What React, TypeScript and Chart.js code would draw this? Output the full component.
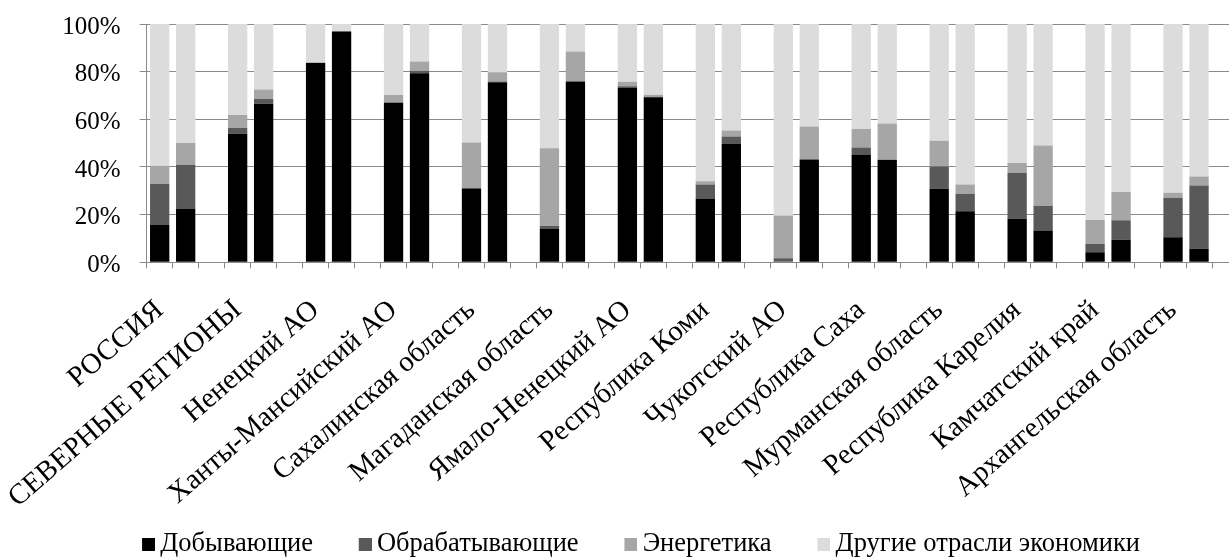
import { useEffect, useRef } from 'react';
import { Chart, registerables } from 'chart.js';

Chart.register(...registerables);

const regions = [
  'РОССИЯ',
  'СЕВЕРНЫЕ РЕГИОНЫ',
  'Ненецкий АО',
  'Ханты-Мансийский АО',
  'Сахалинская область',
  'Магаданская область',
  'Ямало-Ненецкий АО',
  'Республика Коми',
  'Чукотский АО',
  'Республика Саха',
  'Мурманская область',
  'Республика Карелия',
  'Камчатский край',
  'Архангельская область',
];

const sectorNames = ['Добывающие', 'Обрабатывающие', 'Энергетика', 'Другие отрасли экономики'];
const sectorColors = ['#000000', '#595959', '#a6a6a6', '#dcdcdc'];

// Left bar of each region pair, % of gross value added
const miningA = [15.7, 53.9, 83.6, 66.9, 30.8, 14.0, 73.1, 26.6, 0, 45.2, 30.9, 18.3, 4.2, 10.5];
const manufA = [17.2, 2.5, 0, 0.3, 0.5, 1.2, 0.8, 6.0, 1.7, 3.0, 9.3, 19.3, 3.5, 16.6];
const energyA = [7.6, 5.4, 0.3, 3.0, 19.0, 32.7, 1.9, 1.4, 17.9, 7.7, 10.8, 4.1, 10.1, 2.1];
const otherA = [59.5, 38.2, 16.1, 29.8, 49.7, 52.1, 24.2, 66.0, 80.4, 44.1, 49.0, 58.3, 82.2, 70.8];

// Right bar of each region pair
const miningB = [22.4, 66.5, 96.9, 79.3, 75.6, 75.9, 69.3, 49.6, 43.1, 42.9, 21.4, 13.3, 9.5, 5.7];
const manufB = [18.5, 2.0, 0, 1.1, 0.3, 0, 0.2, 3.2, 0, 0.2, 7.4, 10.4, 8.1, 26.5];
const energyB = [9.2, 4.0, 0.2, 3.9, 3.8, 12.6, 0.8, 2.5, 13.9, 15.1, 3.8, 25.3, 11.9, 3.8];
const otherB = [49.9, 27.5, 2.9, 15.7, 20.3, 11.5, 29.7, 44.7, 43.0, 41.8, 67.4, 51.0, 70.5, 64.0];

const yTicks = [0, 20, 40, 60, 80, 100];

const FONT = 'Liberation Serif';
const GRID = '#8a8a8a';

// Each region takes three slots on the axis: two bars and an empty gap.
const toSlots = (a: number[], b: number[]) => a.flatMap((v, i) => [v, b[i], null]);
const slotLabels = regions.flatMap((r) => [r, '', '']);

const seriesA = [miningA, manufA, energyA, otherA];
const seriesB = [miningB, manufB, energyB, otherB];

// Legend swatch: a 13px square sitting at the right end of a wider transparent strip,
// so the legend keeps wide gaps between entries but a tight gap before each text.
function legendMarker(color: string): HTMLCanvasElement {
  const c = document.createElement('canvas');
  c.width = 57;
  c.height = 13;
  const ctx = c.getContext('2d')!;
  ctx.fillStyle = color;
  ctx.fillRect(44, 0, 13, 13);
  return c;
}

export default function App() {
  const ref = useRef<HTMLCanvasElement | null>(null);

  useEffect(() => {
    if (!ref.current) return;
    const chart = new Chart(ref.current, {
      type: 'bar',
      data: {
        labels: slotLabels,
        datasets: sectorNames.map((name, i) => ({
          label: name,
          data: toSlots(seriesA[i], seriesB[i]),
          backgroundColor: sectorColors[i],
          borderWidth: 0,
          barPercentage: 0.743,
          categoryPercentage: 1,
        })),
      },
      options: {
        animation: false,
        responsive: false,
        devicePixelRatio: 1,
        layout: { padding: { left: 8, right: 2, top: 24, bottom: -7.25 } },
        plugins: {
          tooltip: { enabled: false },
          legend: {
            position: 'bottom',
            labels: {
              usePointStyle: true,
              pointStyleWidth: 41,
              boxWidth: 41,
              padding: 9.75,
              color: '#000',
              font: { family: FONT, size: 26.5 },
              generateLabels: (c: Chart) =>
                c.data.datasets.map((ds: any, i: number) => ({
                  text: ds.label,
                  fillStyle: ds.backgroundColor,
                  strokeStyle: ds.backgroundColor,
                  lineWidth: 0,
                  hidden: false,
                  datasetIndex: i,
                  pointStyle: legendMarker(ds.backgroundColor),
                })),
            },
          },
        },
        scales: {
          x: {
            stacked: true,
            offset: true,
            grid: {
              offset: true,
              drawOnChartArea: false,
              drawTicks: true,
              tickLength: 6,
              color: GRID,
            },
            border: { color: GRID },
            ticks: {
              autoSkip: false,
              minRotation: 41,
              maxRotation: 41,
              padding: 25,
              labelOffset: 0,
              color: '#000',
              font: { family: FONT, size: 28.8 },
            },
            afterFit: (s: any) => {
              s.height = 258.7;
              s.paddingLeft = 0;
              s.paddingRight = 0;
            },
          },
          y: {
            stacked: true,
            min: 0,
            max: 100,
            afterBuildTicks: (s: any) => {
              s.ticks = yTicks.map((v) => ({ value: v }));
            },
            grid: { color: GRID, tickLength: 7 },
            border: { color: GRID },
            ticks: {
              padding: 19,
              labelOffset: 3,
              color: '#000',
              font: { family: FONT, size: 25 },
              callback: (v: any) => `${v}%`,
            },
            afterFit: (s: any) => {
              s.width = 138.7;
              s.paddingTop = 0;
              s.paddingBottom = 0;
            },
          },
        },
      },
    } as any);
    return () => chart.destroy();
  }, []);

  return (
    <div
      style={{
        position: 'absolute',
        left: 0,
        top: 0,
        width: 1229,
        height: 560,
        overflow: 'hidden',
        background: '#fff',
      }}
    >
      <canvas ref={ref} width={1240} height={560} style={{ display: 'block' }} />
    </div>
  );
}
